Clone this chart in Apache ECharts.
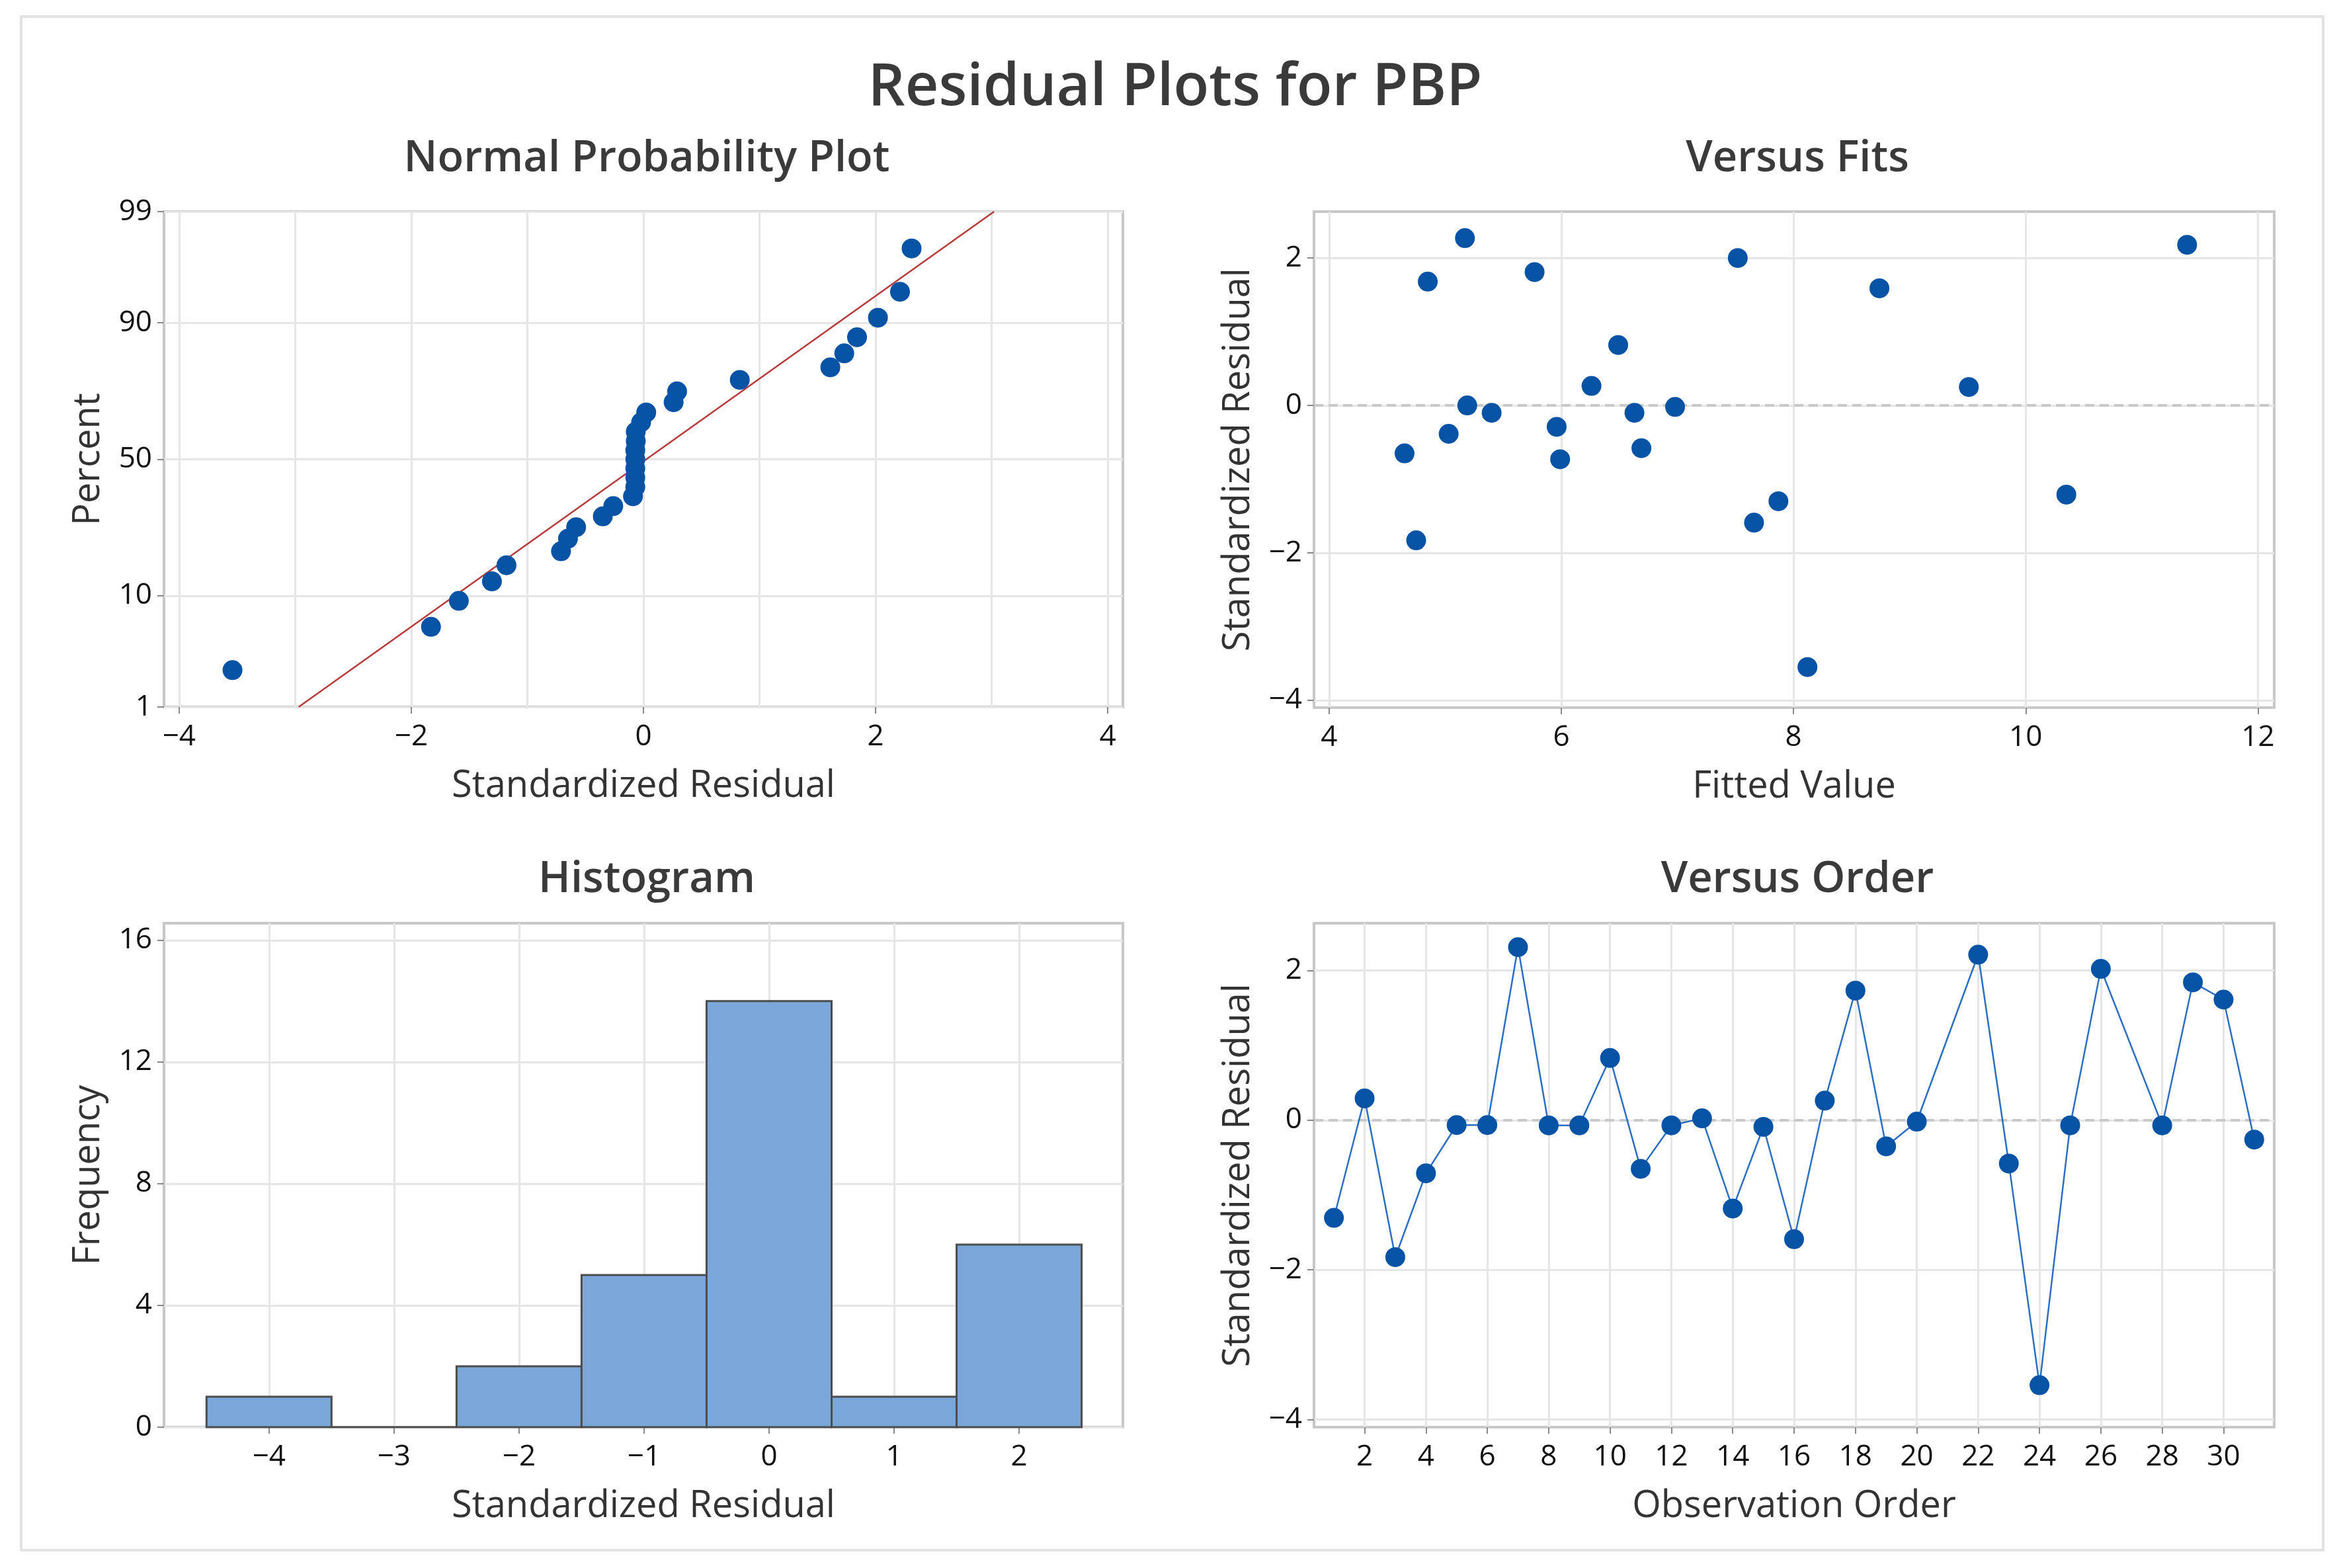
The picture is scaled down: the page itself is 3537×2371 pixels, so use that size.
<!DOCTYPE html>
<html>
<head>
<meta charset="utf-8">
<script src="https://cdn.jsdelivr.net/npm/echarts@6/dist/echarts.min.js"></script>
<style>
  html, body { margin: 0; padding: 0; background: #fff; }
  #main { width: 3537px; height: 2371px; }
</style>
</head>
<body>
<div id="main"></div>
<script>
// residuals in observation order (obs 21 and 27 not present)
let obsOrder = [1,2,3,4,5,6,7,8,9,10,11,12,13,14,15,16,17,18,19,20,22,23,24,25,26,28,29,30,31]
let orderResid = [-1.305,0.29,-1.83,-0.71,-0.066,-0.066,2.31,-0.07,-0.07,0.83,-0.65,-0.07,0.024,-1.18,-0.09,-1.59,0.26,1.73,-0.35,-0.02,2.21,-0.58,-3.54,-0.07,2.02,-0.07,1.84,1.61,-0.26]

// versus fits (visible points)
let fitValues = [4.65,4.75,4.85,5.03,5.17,5.19,5.40,5.77,5.96,5.99,6.26,6.49,6.63,6.69,6.98,7.52,7.66,7.87,8.12,8.74,9.51,10.35,11.39]
let fitResid = [-0.65,-1.83,1.68,-0.385,2.27,0.0,-0.10,1.81,-0.29,-0.73,0.265,0.82,-0.10,-0.58,-0.02,2.0,-1.59,-1.30,-3.55,1.59,0.25,-1.21,2.18]

// normal probability plot
let nppResid = [-3.54,-1.83,-1.59,-1.305,-1.18,-0.71,-0.65,-0.58,-0.35,-0.26,-0.09,-0.07,-0.07,-0.07,-0.07,-0.07,-0.066,-0.066,-0.02,0.024,0.26,0.29,0.83,1.61,1.73,1.84,2.02,2.21,2.31]
let nppPct = [2.381,5.782,9.184,12.585,15.986,19.388,22.789,26.190,29.592,32.993,36.395,39.796,43.197,46.599,50.0,53.401,56.803,60.204,63.605,67.007,70.408,73.810,77.211,80.612,84.014,87.415,90.816,94.218,97.619]
let fitLineX = [-2.97, 3.02]
let fitLinePct = [1, 99]

// histogram
let binCenters = [-4,-3,-2,-1,0,1,2]
let binCounts = [1,0,2,5,14,1,6]

// tick labels
let nppXTicks = [-4,-2,0,2,4]
let nppXGrid = [-4,-3,-2,-1,0,1,2,3,4]
let nppPctTicks = [1,10,50,90,99]
let fitsXTicks = [4,6,8,10,12]
let residTicks = [-4,-2,0,2]
let histXTicks = [-4,-3,-2,-1,0,1,2]
let histYTicks = [0,4,8,12,16]
let orderXTicks = [2,4,6,8,10,12,14,16,18,20,22,24,26,28,30]

// inverse normal cdf (Acklam) for the probability scale
function probit(p){
    const a=[-3.969683028665376e+01,2.209460984245205e+02,-2.759285104469687e+02,1.383577518672690e+02,-3.066479806614716e+01,2.506628277459239e+00]
    const b=[-5.447609879822406e+01,1.615858368580409e+02,-1.556989798598866e+02,6.680131188771972e+01,-1.328068155288572e+01]
    const c=[-7.784894002430293e-03,-3.223964580411365e-01,-2.400758277161838e+00,-2.549671010029042e+00,4.374664141464968e+00,2.938163982698783e+00]
    const d=[7.784695709041462e-03,3.224671290700398e-01,2.445134137142996e+00,3.754408661907416e+00]
    const pl = 0.02425
    let q, r
    if (p < pl) {
        q = Math.sqrt(-2*Math.log(p))
        return (((((c[0]*q+c[1])*q+c[2])*q+c[3])*q+c[4])*q+c[5])/((((d[0]*q+d[1])*q+d[2])*q+d[3])*q+1)
    }
    if (p <= 1 - pl) {
        q = p - 0.5; r = q*q
        return (((((a[0]*r+a[1])*r+a[2])*r+a[3])*r+a[4])*r+a[5])*q/(((((b[0]*r+b[1])*r+b[2])*r+b[3])*r+b[4])*r+1)
    }
    q = Math.sqrt(-2*Math.log(1-p))
    return -(((((c[0]*q+c[1])*q+c[2])*q+c[3])*q+c[4])*q+c[5])/((((d[0]*q+d[1])*q+d[2])*q+d[3])*q+1)
}
let zTicks = nppPctTicks.map(p => probit(p/100))

const FONT = 'Open Sans'
const DOT = '#0653a6'
const GRIDLINE = '#e6e6e6'

// minitab prints a real minus sign
function minus(v){
    return String(v).replace('-', '\u2212')
}

function xAxisBase(grid, min, max, ticks, name){
    return {
        type: 'value', gridIndex: grid, min: min, max: max,
        name: name, nameLocation: 'middle', nameGap: 92,
        nameTextStyle: {fontFamily: FONT, fontSize: 56, color: '#333'},
        axisLine: {show: false, onZero: false},
        axisTick: {show: true, length: 10, customValues: ticks, lineStyle: {color: '#8a8a8a', width: 2}},
        axisLabel: {customValues: ticks, margin: 23, fontFamily: FONT, fontSize: 44, color: '#111', formatter: minus},
        splitLine: {show: true, lineStyle: {color: GRIDLINE, width: 3}}
    }
}
function yAxisBase(grid, min, max, ticks, name){
    return {
        type: 'value', gridIndex: grid, min: min, max: max,
        name: name, nameLocation: 'middle', nameGap: 86,
        nameTextStyle: {fontFamily: FONT, fontSize: 56, color: '#333'},
        axisLine: {show: false, onZero: false},
        axisTick: {show: true, length: 10, customValues: ticks, lineStyle: {color: '#8a8a8a', width: 2}},
        axisLabel: {customValues: ticks, margin: 18, fontFamily: FONT, fontSize: 44, color: '#111', formatter: minus},
        splitLine: {show: true, lineStyle: {color: GRIDLINE, width: 3}}
    }
}

let chart = echarts.init(document.getElementById('main'))

let gridStyle = {show: true, borderColor: '#c8c8c8', borderWidth: 4, backgroundColor: '#fff', outerBoundsMode: 'none'}
let titleStyle = {fontFamily: FONT, fontSize: 65, fontWeight: 600, color: '#3a3a3a'}

let nppY = yAxisBase(0, zTicks[0], zTicks[zTicks.length-1], zTicks, 'Percent')
nppY.axisLabel.formatter = function(v){
    for (let i = 0; i < zTicks.length; i++) {
        if (Math.abs(zTicks[i] - v) < 1e-6) return String(nppPctTicks[i])
    }
    return ''
}
// extra axis only for the unit gridlines of the probability plot
let nppXGridAxis = {
    type: 'value', gridIndex: 0, min: -4.13, max: 4.13,
    axisLine: {show: false, onZero: false}, axisLabel: {show: false},
    axisTick: {show: false, customValues: nppXGrid},
    splitLine: {show: true, lineStyle: {color: GRIDLINE, width: 3}}
}
let nppX = xAxisBase(0, -4.13, 4.13, nppXTicks, 'Standardized Residual')
nppX.splitLine.show = false

let option = {
    animation: false,
    backgroundColor: '#fff',
    textStyle: {fontFamily: FONT},
    title: [
        {text: 'Residual Plots for PBP', left: 1772, top: 85,
            textStyle: {fontFamily: FONT, fontSize: 88, fontWeight: 600, color: '#3a3a3a'}},
        {text: 'Normal Probability Plot', left: 973, top: 203, textStyle: titleStyle},
        {text: 'Versus Fits', left: 2713, top: 203, textStyle: titleStyle},
        {text: 'Histogram', left: 973, top: 1293, textStyle: titleStyle},
        {text: 'Versus Order', left: 2713, top: 1293, textStyle: titleStyle}
    ].map(t => Object.assign(t, {textAlign: 'center'})),
    graphic: [{
        type: 'rect', silent: true,
        shape: {x: 32, y: 25, width: 3481, height: 2319},
        style: {fill: 'none', stroke: '#e3e3e3', lineWidth: 4}
    }],
    grid: [
        Object.assign({left: 248, top: 320, width: 1450, height: 749}, gridStyle),
        Object.assign({left: 1987, top: 320, width: 1452, height: 750}, gridStyle),
        Object.assign({left: 248, top: 1396, width: 1450, height: 762}, gridStyle),
        Object.assign({left: 1987, top: 1396, width: 1452, height: 762}, gridStyle)
    ],
    xAxis: [
        nppX,
        xAxisBase(1, 3.87, 12.14, fitsXTicks, 'Fitted Value'),
        xAxisBase(2, -4.84, 2.83, histXTicks, 'Standardized Residual'),
        xAxisBase(3, 0.35, 31.65, orderXTicks, 'Observation Order'),
        nppXGridAxis
    ],
    yAxis: [
        nppY,
        yAxisBase(1, -4.1, 2.63, residTicks, 'Standardized Residual'),
        yAxisBase(2, 0, 16.56, histYTicks, 'Frequency'),
        yAxisBase(3, -4.1, 2.63, residTicks, 'Standardized Residual')
    ],
    series: [
        {
            type: 'line', xAxisIndex: 0, yAxisIndex: 0, z: 2,
            data: fitLineX.map((x, i) => [x, probit(fitLinePct[i]/100)]),
            symbol: 'none', lineStyle: {color: '#b73a3a', width: 2.5}
        },
        {
            type: 'scatter', xAxisIndex: 0, yAxisIndex: 0, z: 3,
            data: nppResid.map((x, i) => [x, probit(nppPct[i]/100)]),
            symbolSize: 30, itemStyle: {color: DOT, opacity: 1}
        },
        {
            type: 'scatter', xAxisIndex: 1, yAxisIndex: 1, z: 3,
            data: fitValues.map((x, i) => [x, fitResid[i]]),
            symbolSize: 30, itemStyle: {color: DOT, opacity: 1},
            markLine: {
                silent: true, symbol: 'none', label: {show: false}, z: 1,
                lineStyle: {color: '#c9c9c9', type: [14, 8], width: 4},
                data: [{yAxis: 0}]
            }
        },
        {
            type: 'custom', xAxisIndex: 2, yAxisIndex: 2,
            data: binCenters.map((c, i) => [c, binCounts[i]]),
            renderItem: function(params, api){
                let c = api.value(0), n = api.value(1)
                let p0 = api.coord([c - 0.5, n])
                let p1 = api.coord([c + 0.5, 0])
                return {
                    type: 'rect',
                    shape: {x: p0[0], y: p0[1], width: p1[0] - p0[0], height: p1[1] - p0[1]},
                    style: {fill: '#7ba6d9', stroke: '#4d4d4d', lineWidth: 3}
                }
            }
        },
        {
            type: 'line', xAxisIndex: 3, yAxisIndex: 3, z: 3,
            data: obsOrder.map((x, i) => [x, orderResid[i]]),
            symbol: 'circle', symbolSize: 30,
            itemStyle: {color: DOT},
            lineStyle: {color: '#2c6fc2', width: 2.5},
            markLine: {
                silent: true, symbol: 'none', label: {show: false}, z: 1,
                lineStyle: {color: '#c9c9c9', type: [14, 8], width: 4},
                data: [{yAxis: 0}]
            }
        }
    ]
}
chart.setOption(option)
</script>
</body>
</html>
